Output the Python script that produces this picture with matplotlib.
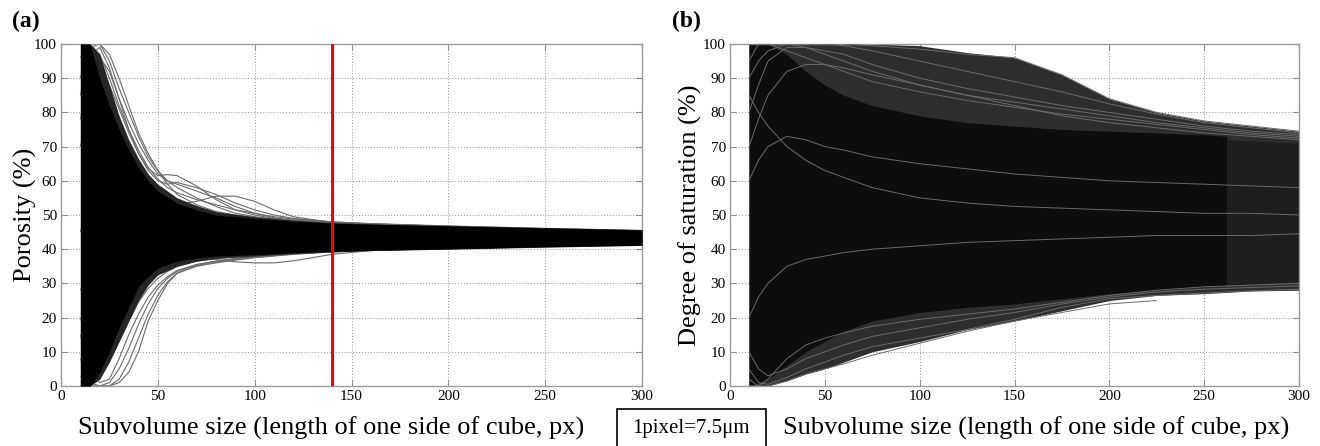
import numpy as np
import matplotlib
matplotlib.use("Agg")
import matplotlib.pyplot as plt
from matplotlib.patches import Rectangle

plt.rcParams['font.family'] = ['Liberation Serif', 'DejaVu Serif']

# ---------------- Panel (a): porosity ----------------
xa_core = [10, 15, 20, 25, 30, 35, 40, 45, 50, 60, 70, 80, 100, 120, 140, 160, 200, 250, 300]
a_core_upper = [100, 100, 90, 82, 75, 69, 64, 60, 57, 53.5, 51.5, 50, 49, 48.2, 47.6, 47.3, 46.8, 46.2, 45.6]
a_core_lower = [0, 0, 4, 10, 17, 23, 29, 32, 34.5, 36.5, 37.5, 38, 38.4, 39, 39.4, 39.7, 40.1, 40.7, 41.2]
a_mid_upper = [100, 100, 97, 88, 79, 72, 66.5, 62, 59, 55, 52.8, 51, 49.5, 48.5, 47.8, 47.4, 46.9, 46.3, 45.7]
a_mid_lower = [0, 0, 2, 7, 13, 19, 25, 29.5, 32.5, 35, 36.5, 37.3, 38, 38.7, 39.2, 39.6, 40.0, 40.6, 41.1]

xa = [10, 15, 20, 25, 30, 35, 40, 45, 50, 55, 60, 70, 80, 90, 100, 110, 120, 140, 160, 200, 250, 300]
a_u1 = [96, 100, 100, 95, 87, 80, 73, 67, 63, 60, 58, 55, 52.5, 50.5, 49.5, 48.8, 48.3, 47.8, 47.4, 46.7, 46.0, 45.4]
a_u2 = [78, 90, 96, 92, 84, 75, 68, 63.5, 61.5, 61.8, 61.5, 58.5, 54.5, 51.5, 50, 49, 48.5, 47.8, 47.3, 46.6, 45.9, 45.3]
a_u3 = [45, 55, 62, 66, 65, 62, 59, 56, 54, 53, 53, 54, 55.5, 55.5, 54, 51.5, 49.5, 47.8, 47.2, 46.3, 45.5, 45.0]
a_u4 = [90, 99, 100, 97, 90, 82, 74, 68, 63, 59, 56, 53, 51, 50, 49.2, 48.6, 48.1, 47.6, 47.2, 46.5, 45.8, 45.2]
a_u5 = [85, 97, 99, 93, 84, 77, 71, 66, 62, 60, 59, 57, 55, 52.5, 50.5, 49.2, 48.4, 47.7, 47.3, 46.6, 45.9, 45.3]
a_u6 = [70, 82, 88, 88, 81, 74, 68, 63, 60, 59, 59.5, 58, 56, 53.5, 51.5, 50, 49, 48, 47.4, 46.7, 46.0, 45.4]
a_u7 = [100, 100, 97, 90, 82, 75, 69, 64, 60.5, 58, 56.5, 54.5, 53, 51.5, 50.5, 49.5, 48.8, 48.0, 47.5, 46.8, 46.1, 45.5]
a_l1 = [8, 1, 0, 0, 1, 4, 10, 19, 25, 30, 33, 35, 36, 36.8, 37.5, 38, 38.5, 39.2, 39.6, 40.2, 40.8, 41.3]
a_l2 = [3, 0, 0, 1, 5, 11, 18, 24, 28.5, 31.5, 33.5, 35.5, 36.5, 37.2, 37.8, 38.3, 38.7, 39.3, 39.7, 40.3, 40.9, 41.3]
a_l3 = [28, 33, 36, 38, 39.5, 40, 40, 39.8, 39.5, 39, 38.5, 37.8, 37, 36.3, 36, 36, 36.6, 38.5, 39.6, 40.3, 41.0, 41.5]
a_l4 = [15, 5, 1, 2, 8, 15, 21, 26, 29.5, 32, 33.8, 35.5, 36.5, 37.3, 37.9, 38.4, 38.8, 39.4, 39.8, 40.4, 41.0, 41.4]
a_l5 = [20, 10, 6, 8, 13, 19, 24.5, 28.5, 31.5, 33.5, 35, 36.5, 37.2, 37.8, 38.2, 38.6, 39.0, 39.5, 39.9, 40.5, 41.0, 41.4]
a_l6 = [0, 0, 0, 0, 2, 7, 14, 21, 26.5, 30.5, 33, 35.2, 36.2, 37, 37.6, 38.1, 38.6, 39.3, 39.7, 40.3, 40.9, 41.3]
a_curves = [a_u1, a_u2, a_u3, a_u4, a_u5, a_u6, a_u7, a_l1, a_l2, a_l3, a_l4, a_l5, a_l6]
a_marker_x = 140

# ---------------- Panel (b): degree of saturation ----------------
xb_env = [10, 15, 20, 30, 40, 50, 60, 75, 100, 125, 150, 175, 200, 225, 250, 275, 300]
b_env_upper = [100, 100, 100, 100, 100, 100, 100, 100, 99.5, 97.5, 96, 91, 84, 80, 77.5, 76, 74.5]
b_env_lower = [0, 0, 0, 1.5, 3.5, 5, 7, 10, 13, 16.5, 19, 22, 25, 26.5, 27, 27.8, 28]

xb_core = [10, 20, 30, 40, 50, 60, 75, 100, 125, 150, 175, 200, 225, 250, 262]
b_core_upper = [100, 100, 97, 92, 88, 85, 82, 79, 77, 76, 75, 74.5, 74, 73.5, 73]
b_core_lower = [0, 2, 6, 10, 13, 16, 19, 21.5, 23, 24, 25.5, 27, 28, 29, 29.5]
xb_tail = [262, 300]
b_tail_upper = [72, 71]
b_tail_lower = [29.5, 30.5]

xb = [10, 15, 20, 30, 40, 50, 60, 75, 100, 125, 150, 175, 200, 225, 250, 275, 300]
b_u1 = [100, 100, 100, 100, 100, 100, 100, 99.5, 98.5, 97, 96, 91, 84, 80, 77.5, 76, 74.5]
b_u2 = [90, 95, 98, 100, 100, 100, 99.5, 98, 95, 92, 89, 86, 82.5, 79.5, 77, 75.5, 74]
b_u3 = [80, 88, 95, 99, 99, 98, 97, 94, 90, 87, 84.5, 82, 80, 78, 76, 74.5, 73.5]
b_u4 = [100, 100, 100, 98, 96, 94, 92, 89, 86, 83.5, 81.5, 79.5, 78, 76.5, 75, 73.5, 72.5]
b_u5 = [70, 78, 85, 92, 94, 94, 93, 91, 88, 85, 82, 79, 77, 75.5, 74, 73, 72]
b_u6 = [95, 100, 100, 100, 99, 97, 95, 92, 88, 85, 83, 81, 79, 77, 75.5, 74, 73]
b_m1 = [60, 66, 70, 73, 72, 70, 69, 67, 65, 63.5, 62, 61, 60, 59.5, 59, 58.5, 58]
b_m2 = [20, 26, 30, 35, 37, 38, 39, 40, 41, 42, 42.5, 43, 43.5, 44, 44, 44, 44.5]
b_m3 = [85, 80, 76, 70, 66, 63, 61, 58, 55, 53.5, 52.5, 52, 51.5, 51, 50.5, 50.5, 50]
b_l1 = [2, 0, 0, 1.5, 3.5, 5, 6.5, 9, 12.5, 16, 19, 21.5, 24, 25, np.nan, np.nan, np.nan]
b_l2 = [5, 1, 0.5, 2.5, 5, 7, 9, 11.5, 14, 16.5, 19.5, 23, 25.5, 26.5, 27.2, 27.8, 28.3]
b_l3 = [10, 5, 3, 5, 8, 10, 12, 14.5, 17, 19.5, 21.5, 24, 26, 27.5, 28.3, 28.8, 29.3]
b_l4 = [0, 0, 2, 8, 12, 14, 15.5, 17.5, 19.5, 21, 22.5, 24.5, 26.5, 28, 29, 29.5, 30]
b_curves = [b_u1, b_u2, b_u3, b_u4, b_u5, b_u6, b_m1, b_m2, b_m3, b_l1, b_l2, b_l3, b_l4]

x_ticks = [0, 50, 100, 150, 200, 250, 300]
y_ticks = [0, 10, 20, 30, 40, 50, 60, 70, 80, 90, 100]
x_label = "Subvolume size (length of one side of cube, px)"
ya_label = "Porosity (%)"
yb_label = "Degree of saturation (%)"
scale_note = "1pixel=7.5\u03bcm"

# ---------------- Figure ----------------
W, H = 1320, 446
fig = plt.figure(figsize=(W / 100, H / 100), dpi=100)
axa = fig.add_axes([61 / W, 60 / H, 581 / W, 342 / H])
axb = fig.add_axes([730 / W, 60 / H, 569 / W, 342 / H])

line_col = '#6a6a6a'

# panel a
for c in a_curves:
    axa.plot(xa, c, color=line_col, lw=0.8, zorder=2, solid_capstyle='butt')
axa.fill_between(xa_core, a_mid_lower, a_mid_upper, color='#262626', lw=0, zorder=3)
axa.fill_between(xa_core, a_core_lower, a_core_upper, color='black', lw=0, zorder=3)
axa.axvline(a_marker_x, color='#ff0000', lw=2.2, zorder=5)

# panel b
axb.fill_between(xb_env, b_env_lower, b_env_upper, color='#2e2e2e', lw=0, zorder=2)
axb.fill_between(xb_core, b_core_lower, b_core_upper, color='#0d0d0d', lw=0, zorder=2)
axb.fill_between(xb_tail, b_tail_lower, b_tail_upper, color='#1e1e1e', lw=0, zorder=2)
for c in b_curves:
    axb.plot(xb, c, color=line_col, lw=0.7, zorder=3, solid_capstyle='butt')

for ax, yl, lp in [(axa, ya_label, -2.5), (axb, yb_label, 0.5)]:
    ax.set_xlim(0, 300)
    ax.set_ylim(0, 100)
    ax.set_xticks(x_ticks)
    ax.set_yticks(y_ticks)
    ax.set_axisbelow(True)
    ax.grid(True, color='#8c8c8c', lw=0.7, linestyle=(0, (1, 2)))
    ax.tick_params(direction='in', length=4, width=0.8, color='#8c8c8c',
                   top=True, right=True, labelsize=11, pad=3)
    for s in ax.spines.values():
        s.set_color('#9a9a9a')
        s.set_linewidth(1.0)
    ax.set_ylabel(yl, fontsize=19, labelpad=lp)

# x labels (shifted away from the scale box, as in the original)
fig.text(331 / W, 1 - 428 / H, x_label, fontsize=19, ha='center', va='center')
fig.text(1036 / W, 1 - 428 / H, x_label, fontsize=19, ha='center', va='center')

fig.text(12 / W, 1 - 21 / H, "(a)", fontsize=17, fontweight='bold', va='center', ha='left')
fig.text(672 / W, 1 - 21 / H, "(b)", fontsize=17, fontweight='bold', va='center', ha='left')

fig.patches.append(Rectangle((617 / W, -0.02), 149 / W, (446 - 409) / H + 0.02,
                             transform=fig.transFigure, fill=False, edgecolor='black', lw=1.2))
fig.text(691 / W, 1 - 429 / H, scale_note, fontsize=15, ha='center', va='center')

fig.savefig("out.png", dpi=100)
